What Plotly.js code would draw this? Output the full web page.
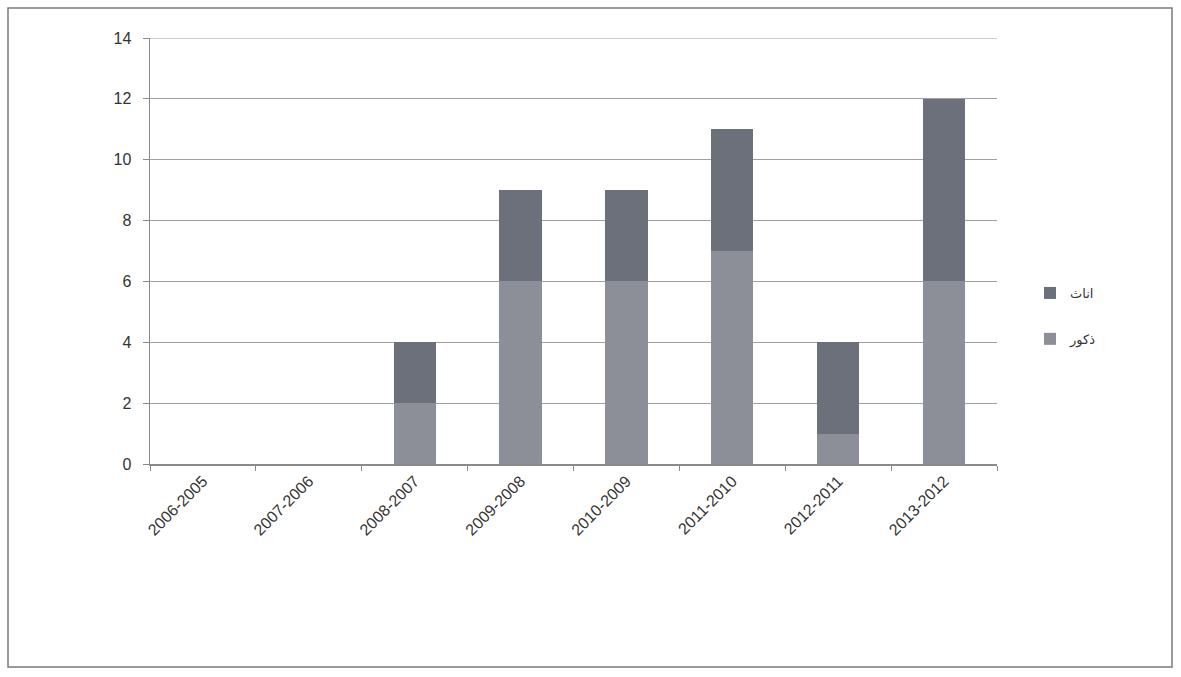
<!DOCTYPE html>
<html>
<head>
<meta charset="utf-8">
<script src="https://cdn.plot.ly/plotly-3.0.1.min.js"></script>
<style>html,body{margin:0;padding:0;background:#fff;}#chart{width:1181px;height:677px;}</style>
</head>
<body>
<div id="chart"></div>
<script>
const categories = ['2006-2005','2007-2006','2008-2007','2009-2008','2010-2009','2011-2010','2012-2011','2013-2012'];
const males = [0, 0, 2, 6, 6, 7, 1, 6];     // ذكور (bottom)
const females = [0, 0, 2, 3, 3, 4, 3, 6];   // اناث (top)
const maleName = 'ذكور';
const femaleName = 'اناث';
const yTicks = [0, 2, 4, 6, 8, 10, 12, 14];

const traces = [
  {type:'bar', x:categories, y:males, name:maleName, legendgroup:'m', legendrank:2,
   marker:{color:'#8c8f98', line:{width:0}}, hoverinfo:'x+y+name'},
  {type:'bar', x:categories, y:females, name:femaleName, legendgroup:'f', legendrank:1,
   marker:{color:'#6c707a', line:{width:0}}, hoverinfo:'x+y+name'}
];

const L = 150, R = 997, T = 38, B = 464, W = 1181, H = 677;
const pw = R - L, ph = B - T;
const px = v => (v - L) / pw, py = v => (B - v) / ph;

const layout = {
  width: W, height: H,
  margin: {l: L, r: W - R, t: T, b: H - B, pad: 0},
  paper_bgcolor: '#ffffff', plot_bgcolor: '#ffffff',
  barmode: 'stack', bargap: 0.6,
  font: {family: 'Liberation Sans, Arial, sans-serif', color: '#333333', size: 15},
  showlegend: true,
  legend: {x: px(1030), y: py(278), xanchor: 'left', yanchor: 'top',
    traceorder: 'grouped', tracegroupgap: 26,
    font: {size: 13, color: '#333333', family: 'Noto Sans, DejaVu Sans, sans-serif'},
    bgcolor: 'rgba(0,0,0,0)', itemwidth: 30},
  xaxis: {type: 'category', tickangle: -45, showgrid: false, showline: true,
    linecolor: '#8a8a8a', linewidth: 1.5, ticks: 'outside', tickson: 'boundaries',
    ticklen: 5, tickcolor: '#8a8a8a', tickfont: {size: 16, color: '#333'}, zeroline: false},
  yaxis: {range: [0, 14], tickvals: yTicks, ticktext: yTicks.map(String),
    showgrid: true, gridcolor: '#a0a0a0', gridwidth: 1.2, showline: true,
    linecolor: '#8a8a8a', linewidth: 1.5, ticks: 'outside', ticklen: 6,
    ticklabelstandoff: 8,
    tickcolor: '#8a8a8a', tickfont: {size: 16, color: '#333'}, zeroline: false},
  shapes: [
    {type: 'rect', xref: 'paper', yref: 'paper',
      x0: px(8), x1: px(1172), y0: py(667), y1: py(8),
      line: {color: '#7a7a7a', width: 1.5}, fillcolor: 'rgba(0,0,0,0)', layer: 'below'},
    {type: 'line', xref: 'paper', yref: 'y', x0: 0, x1: 1, y0: 14, y1: 14,
      line: {color: '#a0a0a0', width: 1.2}, layer: 'below'}
  ]
};

Plotly.newPlot('chart', traces, layout, {staticPlot: true});
</script>
</body>
</html>
